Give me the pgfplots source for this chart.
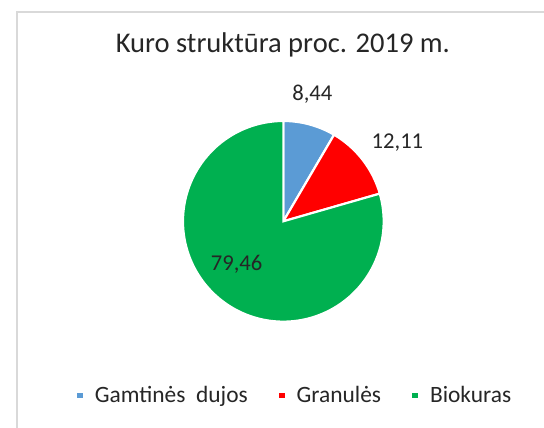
\documentclass[border=0pt]{standalone}
\usepackage{fontspec}
\setmainfont{Carlito}
\usepackage{pgfplots}
\usepackage{pgfplotstable}
\pgfplotsset{compat=1.18}
\definecolor{pieblue}{HTML}{5B9BD5}
\definecolor{piered}{HTML}{FF0000}
\definecolor{piegreen}{HTML}{00B050}
\definecolor{framegray}{HTML}{D9D9D9}
\definecolor{txt}{HTML}{262626}
\pgfplotstableread{
name value
Gamtines 8.44
Granules 12.11
Biokuras 79.46
}\piedata
\begin{document}
\pgfplotstablegetelem{0}{value}\of\piedata \let\vA\pgfplotsretval
\pgfplotstablegetelem{1}{value}\of\piedata \let\vB\pgfplotsretval
\pgfplotstablegetelem{2}{value}\of\piedata \let\vC\pgfplotsretval
\pgfmathsetmacro\aA{90}
\pgfmathsetmacro\aB{\aA-3.6*\vA}
\pgfmathsetmacro\aC{\aB-3.6*\vB}
\pgfmathsetmacro\aD{\aC-3.6*\vC}
\begin{tikzpicture}
\useasboundingbox (0,0) rectangle (544pt,435pt);
\fill[white] (0,0) rectangle (544pt,435pt);
\draw[framegray, line width=1.5pt] (8pt,-5pt) -- (8pt,423pt) -- (550pt,423pt);
\begin{axis}[
  at={(279pt,210pt)}, anchor=center,
  x=102pt, y=102pt,
  xmin=-1, xmax=1, ymin=-1, ymax=1,
  hide axis, clip=false,
  title={Kuro struktūra proc. 2019 m.},
  title style={at={(rel axis cs:0.4975,1.314)}, anchor=base, font=\fontsize{29}{35}\selectfont, text=txt},
  legend columns=3,
  legend image code/.code={\fill[#1] (0pt,-4pt) rectangle (8pt,4pt);},
  legend style={at={(axis cs:-2.078,-1.735)}, anchor=west, draw=none, fill=none,
    inner sep=0pt, font=\fontsize{23.8}{28}\selectfont, text=txt,
    nodes={inner sep=0pt},
    /tikz/every even column/.append style={column sep=29.5pt},
    /tikz/every odd column/.append style={column sep=10pt}},
  legend cell align=left,
]
\addplot[fill=pieblue, draw=white, line width=2.2pt, domain=\aB:\aA, samples=40, variable=\t]
  ({cos(\t)},{sin(\t)}) -- (0,0) -- cycle;
\addlegendentry{Gamtinės\ \ dujos}
\addplot[fill=piered, draw=white, line width=2.2pt, domain=\aC:\aB, samples=40, variable=\t]
  ({cos(\t)},{sin(\t)}) -- (0,0) -- cycle;
\addlegendentry{Granulės}
\addplot[fill=piegreen, draw=white, line width=2.2pt, domain=\aD:\aC, samples=200, variable=\t]
  ({cos(\t)},{sin(\t)}) -- (0,0) -- cycle;
\addlegendentry{Biokuras}
\node[font=\fontsize{23}{28}\selectfont, text=txt, anchor=base] at (axis cs:0.289,1.206) {8,44};
\node[font=\fontsize{23}{28}\selectfont, text=txt, anchor=base] at (axis cs:1.137,0.725) {12,11};
\node[font=\fontsize{23}{28}\selectfont, text=txt, anchor=base] at (axis cs:-0.466,-0.490) {79,46};
\end{axis}
\end{tikzpicture}
\end{document}
